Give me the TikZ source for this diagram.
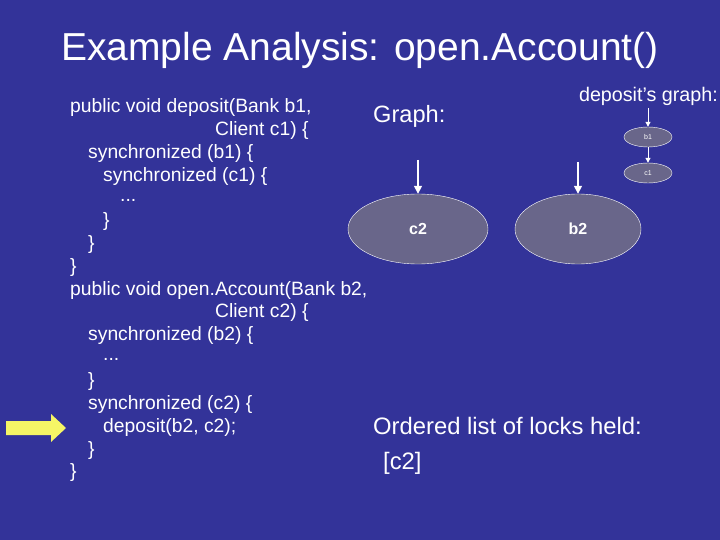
\documentclass[tikz,border=0pt]{standalone}
\usepackage{fontspec}
\setmainfont{Liberation Sans}
\usetikzlibrary{shapes.geometric,arrows.meta}
\definecolor{bg}{HTML}{333399}
\definecolor{ell}{HTML}{69668A}
\definecolor{yel}{HTML}{F5F566}
\begin{document}
\begin{tikzpicture}[x=1pt,y=-1pt,
  code/.style={anchor=west,inner sep=0,text=white,font=\fontsize{19.3}{19.3}\selectfont},
  lock/.style={ellipse,draw=white,fill=ell,text=white,inner sep=0},
  ar/.style={white,line width=1.5pt,-{Triangle[length=8pt,width=8pt]}}]
\fill[bg] (0,0) rectangle (720,540);
\useasboundingbox (0,0) rectangle (720,540);
\node[text=white,font=\fontsize{39}{39}\selectfont] (title) at (360,50) {Example Analysis: open.Account()};
\node[code] (l1) at (70,108) {public void deposit(Bank b1,};
\node[code] (l2) at (215,131) {Client c1) \{};
\node[code] (l3) at (88,154) {synchronized (b1) \{};
\node[code] (l4) at (103,177) {synchronized (c1) \{};
\node[code] (l5) at (120,200) {...};
\node[code] (l6) at (103,222) {\}};
\node[code] (l7) at (88,245) {\}};
\node[code] (l8) at (70,268) {\}};
\node[code] (l9) at (70,291) {public void open.Account(Bank b2,};
\node[code] (l10) at (215,313) {Client c2) \{};
\node[code] (l11) at (88,336) {synchronized (b2) \{};
\node[code] (l12) at (103,359) {...};
\node[code] (l13) at (88,382) {\}};
\node[code] (l14) at (88,405) {synchronized (c2) \{};
\node[code] (l15) at (103,428) {deposit(b2, c2);};
\node[code] (l16) at (88,451) {\}};
\node[code] (l17) at (70,473) {\}};
\fill[yel] (6,421) -- (51,421) -- (51,414) -- (66,428) -- (51,442) -- (51,435) -- (6,435) -- cycle;
\node[anchor=west,inner sep=0,text=white,font=\fontsize{23.6}{23.6}\selectfont] (graph) at (373,116) {Graph:};
\node[lock,minimum width=140pt,minimum height=70pt,font=\bfseries\fontsize{16}{16}\selectfont] (c2) at (418,229) {c2};
\node[lock,minimum width=126pt,minimum height=70pt,font=\bfseries\fontsize{16}{16}\selectfont] (b2) at (578,229) {b2};
\coordinate (c2s) at (418,160);
\coordinate (b2s) at (578,162);
\draw[ar] (c2s) -- (c2.north);
\draw[ar] (b2s) -- (b2.north);
\node[anchor=east,inner sep=0,text=white,font=\fontsize{19.7}{19.7}\selectfont] (dg) at (718,96) {deposit’s graph:};
\node[lock,minimum width=48pt,minimum height=20pt,font=\fontsize{7}{7}\selectfont] (b1) at (648,137) {b1};
\node[lock,minimum width=48pt,minimum height=20pt,font=\fontsize{7}{7}\selectfont] (c1) at (648,173) {c1};
\coordinate (b1s) at (648,108);
\draw[ar,line width=1pt,-{Triangle[length=5pt,width=5pt]}] (b1s) -- (b1.north);
\draw[ar,line width=1pt,-{Triangle[length=5pt,width=5pt]}] (b1.south) -- (c1.north);
\node[anchor=west,inner sep=0,text=white,font=\fontsize{23.8}{23.8}\selectfont] (ol) at (373,426) {Ordered list of locks held:};
\node[anchor=west,inner sep=0,text=white,font=\fontsize{23.8}{23.8}\selectfont] (lst) at (383,463) {[c2]};
\end{tikzpicture}
\end{document}
